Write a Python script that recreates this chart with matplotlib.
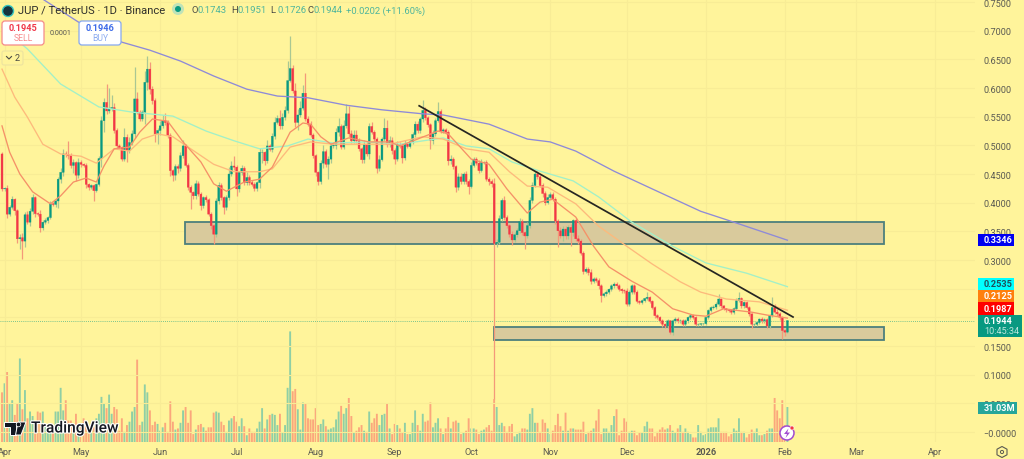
from matplotlib import pyplot as plt
from matplotlib.lines import Line2D
from matplotlib.patches import Circle, FancyBboxPatch, Polygon, Rectangle
from matplotlib.transforms import Affine2D
import matplotlib.patheffects as pe
import numpy as np

plt.rcParams['font.family'] = ['Roboto', 'DejaVu Sans']

closes = [
    .424, .425, .380, .392, .406, .386, .337, .339, .333, .379,
    .366, .385, .409, .381, .380, .356, .366, .369, .374, .398,
    .397, .403, .441, .453, .485, .484, .482, .465, .470, .448,
    .470, .467, .465, .432, .427, .430, .421, .432, .477, .543,
    .575, .560, .564, .566, .526, .499, .496, .476, .514, .491,
    .505, .520, .581, .558, .546, .558, .610, .633, .598, .578,
    .520, .526, .534, .543, .540, .517, .456, .448, .463, .460,
    .482, .499, .465, .427, .418, .412, .433, .415, .395, .409,
    .405, .380, .360, .345, .403, .430, .409, .392, .409, .450,
    .464, .462, .424, .453, .460, .435, .444, .435, .432, .425,
    .435, .488, .488, .473, .499, .493, .516, .540, .547, .534,
    .549, .561, .613, .634, .595, .540, .553, .565, .591, .546,
    .537, .518, .482, .453, .437, .469, .489, .467, .476, .499,
    .500, .523, .533, .497, .534, .555, .520, .508, .518, .508,
    .494, .475, .502, .485, .533, .523, .511, .460, .475, .511,
    .530, .502, .508, .491, .476, .502, .499, .478, .502, .498,
    .506, .519, .537, .526, .546, .561, .548, .536, .509, .520,
    .543, .559, .525, .527, .523, .473, .476, .463, .427, .445,
    .437, .450, .437, .428, .465, .476, .469, .456, .470, .470,
    .441, .437, .433, .329, .331, .372, .404, .374, .360, .345,
    .335, .344, .351, .367, .348, .342, .360, .404, .430, .450,
    .445, .430, .416, .400, .409, .414, .406, .368, .351, .342,
    .354, .342, .357, .348, .369, .337, .333, .312, .280, .284,
    .278, .263, .267, .264, .255, .238, .241, .244, .249, .255,
    .258, .255, .249, .2465, .246, .223, .244, .255, .244, .228,
    .226, .229, .233, .235, .228, .217, .203, .200, .194, .188,
    .185, .194, .174, .194, .197, .194, .194, .188, .194, .200,
    .203, .200, .188, .188, .189, .189, .200, .212, .217, .218,
    .223, .232, .220, .215, .213, .212, .209, .215, .229, .233,
    .220, .226, .217, .206, .188, .188, .191, .197, .194, .196,
    .185, .203, .217, .209, .206, .200, .177, .1742, .1944,
]
first_open = .485

upper_wicks = [
    4, 3, 6, 4, 6, 3, 3, 6, 8, 4, 6, 5, 6, 3, 3, 8, 4, 4, 3, 5,
    4, 3, 3, 8, 8, 5, 24, 4, 6, 3, 8, 4, 3, 4, 3, 3, 3, 3, 5, 8,
    8, 32, 36, 21, 8, 5, 3, 3, 17, 6, 10, 6, 55, 12, 4, 4, 20, 23, 12, 5,
    4, 5, 8, 10, 14, 4, 4, 3, 4, 5, 6, 10, 3, 4, 3, 3, 6, 5, 4, 3,
    4, 3, 3, 3, 6, 6, 4, 3, 5, 12, 8, 18, 4, 3, 5, 4, 10, 5, 5, 4,
    3, 8, 6, 3, 10, 4, 6, 10, 6, 14, 8, 8, 35, 57, 6, 14, 10, 12, 14, 36,
    5, 6, 3, 3, 3, 6, 12, 5, 5, 6, 5, 8, 14, 4, 10, 17, 14, 6, 8, 8,
    5, 3, 8, 5, 6, 8, 4, 4, 8, 4, 18, 14, 8, 6, 5, 6, 4, 5, 8, 4,
    5, 4, 6, 6, 4, 18, 6, 4, 3, 6, 5, 16, 4, 3, 3, 4, 8, 4, 3, 6,
    6, 4, 6, 4, 6, 4, 4, 5, 6, 3, 4, 4, 4, 10, 5, 6, 5, 8, 4, 3,
    5, 5, 4, 6, 5, 3, 6, 6, 6, 6, 6, 4, 5, 4, 6, 5, 5, 4, 4, 6,
    5, 6, 4, 5, 3, 5, 6, 3, 3, 4, 3, 6, 3, 3, 4, 3, 3, 4, 3, 4,
    3, 3, 4, 3, 3, 6, 3, 3, 3, 3, 2, 3, 3, 10, 3, 2, 2, 3, 2, 3,
    2, 3, 2, 3, 3, 3, 3, 3, 3, 2, 3, 2, 2, 2, 2, 2, 3, 3, 3, 3,
    3, 9, 2, 2, 2, 2, 2, 3, 4, 12, 3, 3, 3, 2, 2, 2, 3, 2, 3, 3,
    3, 3, 18, 6, 5, 3, 3, 3, 1,
]
lower_wicks = [
    3, 4, 6, 4, 3, 8, 8, 18, 31, 10, 4, 6, 4, 6, 4, 8, 4, 4, 4, 3,
    3, 4, 12, 6, 6, 4, 5, 5, 14, 10, 5, 4, 3, 6, 4, 3, 18, 3, 3, 14,
    20, 5, 4, 4, 4, 5, 3, 4, 3, 20, 4, 5, 8, 4, 4, 4, 20, 14, 8, 6,
    14, 18, 8, 4, 4, 4, 10, 10, 8, 8, 4, 4, 3, 4, 29, 6, 6, 3, 8, 4,
    3, 4, 6, 17, 4, 6, 4, 12, 5, 4, 3, 5, 12, 6, 4, 5, 4, 5, 3, 4,
    4, 10, 18, 8, 4, 3, 5, 5, 3, 6, 5, 4, 5, 3, 3, 8, 14, 4, 3, 4,
    3, 4, 4, 6, 7, 4, 8, 4, 26, 6, 3, 6, 6, 4, 4, 4, 6, 4, 4, 4,
    4, 6, 6, 3, 8, 4, 4, 8, 4, 3, 3, 4, 4, 6, 8, 3, 4, 8, 3, 3,
    3, 3, 4, 4, 4, 6, 4, 4, 15, 6, 4, 3, 4, 3, 4, 8, 6, 5, 8, 4,
    5, 5, 4, 13, 3, 3, 3, 4, 3, 3, 4, 6, 5, 271, 6, 3, 4, 4, 5, 4,
    8, 4, 3, 4, 4, 23, 4, 4, 4, 3, 3, 3, 6, 4, 3, 3, 3, 5, 29, 4,
    8, 6, 6, 23, 6, 4, 5, 3, 4, 3, 5, 4, 3, 3, 6, 12, 3, 4, 3, 3,
    3, 4, 3, 4, 4, 4, 3, 3, 4, 3, 3, 3, 3, 3, 3, 3, 4, 3, 3, 5,
    4, 3, 3, 4, 3, 3, 4, 3, 3, 3, 3, 3, 3, 3, 3, 3, 3, 3, 2, 3,
    3, 3, 3, 3, 3, 3, 3, 3, 3, 3, 3, 3, 3, 3, 6, 3, 3, 3, 3, 3,
    4, 3, 3, 3, 3, 4, 15, 6, 2,
]

# volume in millions
volumes = [
    44, 52, 62, 34, 37, 24, 34, 74, 29, 46, 21, 27, 23, 18, 27, 26, 27, 16, 12, 12,
    13, 27, 27, 48, 28, 37, 19, 19, 12, 25, 14, 15, 21, 15, 12, 12, 13, 21, 25, 40,
    34, 30, 42, 25, 31, 29, 10, 21, 9, 15, 18, 27, 31, 73, 15, 18, 51, 44, 28, 15,
    18, 16, 10, 13, 17, 9, 36, 18, 11, 12, 17, 28, 31, 17, 28, 7, 11, 15, 16, 13,
    10, 13, 13, 26, 27, 26, 18, 15, 9, 19, 21, 23, 18, 14, 21, 14, 6, 12, 9, 9,
    12, 18, 30, 12, 20, 24, 25, 24, 15, 25, 8, 15, 48, 98, 45, 47, 29, 11, 35, 34,
    21, 20, 20, 30, 15, 16, 20, 14, 11, 12, 13, 20, 27, 32, 25, 30, 39, 23, 8, 10,
    13, 15, 10, 9, 27, 17, 21, 25, 15, 24, 25, 34, 12, 7, 16, 15, 12, 8, 17, 7,
    7, 17, 28, 15, 10, 25, 18, 19, 35, 13, 17, 21, 12, 7, 12, 22, 12, 18, 19, 17,
    7, 8, 10, 21, 12, 12, 11, 7, 10, 11, 13, 15, 10, 38, 31, 15, 17, 14, 9, 14,
    16, 5, 7, 9, 12, 12, 11, 25, 30, 17, 17, 9, 20, 17, 12, 7, 10, 15, 25, 14,
    10, 26, 10, 12, 12, 11, 11, 11, 18, 7, 9, 10, 12, 19, 29, 7, 12, 12, 9, 15,
    23, 29, 6, 10, 21, 18, 9, 10, 10, 6, 8, 8, 14, 18, 12, 12, 5, 9, 11, 13,
    11, 12, 15, 10, 8, 12, 15, 9, 12, 9, 7, 4, 4, 15, 9, 6, 7, 12, 13, 13,
    13, 21, 9, 9, 9, 5, 7, 12, 10, 21, 9, 9, 4, 7, 11, 9, 12, 6, 6, 7,
    10, 12, 12, 39, 28, 21, 37, 15, 31,
]

# moving averages, read at the bends of each line
ma_200_days = [16, 30, 47, 58, 70, 83, 96, 108, 120, 135, 149, 165, 173, 191, 206, 215, 225, 240, 255, 274, 287, 308]
ma_200 = [.755, .715, .680, .666, .647, .621, .598, .586, .583, .570, .562, .555, .553, .537, .511, .506, .490, .455, .424, .385, .366, .3346]
ma_100_days = [0, 10, 23, 38, 51, 67, 80, 91, 101, 112, 120, 130, 143, 156, 173, 182, 191, 200, 211, 224, 234, 247, 263, 276, 292, 308]
ma_100 = [.706, .668, .607, .567, .558, .551, .525, .508, .494, .499, .511, .504, .506, .502, .513, .499, .494, .471, .455, .438, .410, .366, .324, .295, .277, .2535]
ma_50_days = [0, 5, 10, 16, 23, 31, 37, 44, 50, 55, 61, 67, 74, 83, 91, 101, 106, 113, 121, 130, 152, 165, 173, 182, 191, 199, 206, 214, 225, 234, 245, 255, 266, 274, 284, 297, 308]
ma_50 = [.633, .584, .549, .502, .485, .481, .469, .494, .490, .511, .520, .515, .494, .467, .454, .454, .459, .497, .506, .502, .502, .515, .511, .494, .488, .454, .429, .427, .398, .359, .324, .293, .262, .244, .232, .227, .2125]
ma_20_days = [0, 3, 7, 12, 19, 23, 28, 33, 37, 40, 44, 50, 54, 59, 65, 71, 78, 83, 88, 95, 101, 106, 113, 118, 121, 125, 129, 136, 144, 152, 156, 163, 171, 175, 184, 191, 198, 206, 211, 216, 225, 232, 238, 247, 255, 263, 271, 276, 283, 294, 300, 308]
ma_20 = [.534, .488, .450, .419, .398, .412, .436, .443, .436, .464, .494, .497, .523, .546, .542, .506, .471, .433, .420, .436, .441, .462, .523, .539, .537, .515, .502, .513, .506, .506, .499, .511, .525, .520, .476, .467, .424, .382, .401, .406, .375, .324, .288, .263, .244, .215, .204, .202, .215, .209, .204, .1987]

# drawn levels: [first day, last day, low, high]
zone_upper = [71.8, 345.9, .328, .366]
zone_lower = [192.8, 345.9, .1605, .183]
trend_days = [163.6, 310.2]
trend_prices = [.569, .2006]

month_days = [1, 31, 62, 92, 123, 154, 184, 215, 245, 276, 307, 335, 366]
month_labels = ['Apr', 'May', 'Jun', 'Jul', 'Aug', 'Sep', 'Oct', 'Nov', 'Dec', '2026', 'Feb', 'Mar', 'Apr']
price_ticks = [0, .05, .1, .15, .2, .25, .3, .35, .4, .45, .5, .55, .6, .65, .7, .75]
# these two sit fully under the price tags
hidden_ticks = [.2, .25]

BG = '#FFF49B'
GRID = '#F8EC96'
GREEN = '#089981'
RED = '#F23645'
TXT = '#5A5A52'

fig = plt.figure(figsize=(10.24, 4.6), dpi=100, facecolor=BG)
ax = fig.add_axes([0, 17 / 460, 975 / 1024, 443 / 460])
vol = ax.twinx()
ax.set_zorder(vol.get_zorder() + 1)
ax.patch.set_visible(False)
vol.set_facecolor(BG)

closes = np.array(closes)
opens = np.r_[first_open, closes[:-1]]
days = np.arange(len(closes))
up = closes >= opens
highs = np.maximum(opens, closes) + np.array(upper_wicks) / 1000
lows = np.minimum(opens, closes) - np.array(lower_wicks) / 1000

bars = vol.bar(days, volumes, width=.74, color=np.where(up, '#8FCFA5', '#FBA77C'))
for bar in bars:
    bar.set_snap(False)
vol.set_ylim(0, 392.5)
vol.set_yticks([])

ax.set_axisbelow(True)
for zone in [zone_upper, zone_lower]:
    ax.add_patch(Rectangle((zone[0], zone[2]), zone[1] - zone[0], zone[3] - zone[2],
                           facecolor='#D9CA9C', edgecolor='#4D7F7C', linewidth=1.3, zorder=1.5))

ax.vlines(days, lows, highs, colors=np.where(up, '#A9C793', '#F4997A'), linewidth=.9, zorder=2)
bodies = ax.bar(days, np.abs(closes - opens), bottom=np.minimum(opens, closes), width=.74,
                color=np.where(up, GREEN, RED), edgecolor=np.where(up, GREEN, RED), linewidth=.25, zorder=3)
for body in bodies:
    body.set_snap(False)

ax.plot(ma_200_days, ma_200, color='#8E8AD8', linewidth=.95, zorder=4)
ax.plot(ma_100_days, ma_100, color='#A2F0C8', linewidth=.95, zorder=4)
ax.plot(ma_50_days, ma_50, color='#FDBA7C', linewidth=.95, zorder=4)
ax.plot(ma_20_days, ma_20, color='#F59168', linewidth=.95, zorder=4)
ax.plot(trend_days, trend_prices, color='#262622', linewidth=1.25, zorder=5)
ax.axhline(closes[-1], color=GREEN, linewidth=.6, linestyle=(0, (1, 1.5)), alpha=.7, zorder=1.8)

ax.set_xlim(-.784, 381.57)
ax.set_ylim(-.01744, .7553)
vol.set_xlim(-.784, 381.57)
ax.set_xticks(month_days)
ax.set_xticklabels(month_labels)
ax.yaxis.tick_right()
ax.set_yticks(price_ticks)
ax.set_yticklabels(['' if p in hidden_ticks else '\u22120.0000' if p == 0 else '%.4f' % p for p in price_ticks])
ax.grid(color=GRID, linewidth=.8)
ax.tick_params(length=0, labelsize=6.6, labelcolor=TXT)
ax.tick_params(axis='y', pad=6.2)
ax.tick_params(axis='x', pad=3.5)
ax.get_xticklabels()[9].set_fontweight('bold')
for spine in list(ax.spines.values()) + list(vol.spines.values()):
    spine.set_visible(False)

# overlays below are placed in image pixels
pix = Affine2D().scale(1, -1).translate(0, 460)


def label(x, y, s, color=TXT, size=6.6, ha='left', **kw):
    return fig.text(x, y, s, color=color, fontsize=size, ha=ha, va='center', transform=pix, zorder=6, **kw)


def tag(x0, y0, x1, y1, color):
    fig.add_artist(Rectangle((x0, y0), x1 - x0, y1 - y0, facecolor=color, edgecolor='none', transform=pix, zorder=5))


# price tags on the scale
tag(978, 235, 1014, 247, '#0000F0')
label(984, 241, '0.3346', 'white', fontweight='bold')
tag(978, 279, 1014, 291, '#00FFFF')
label(984, 285, '0.2535', '#1F4F5A', fontweight='bold')
tag(978, 291, 1014, 303, '#FF7F0E')
label(984, 297, '0.2125', 'white', fontweight='bold')
tag(978, 303, 1014, 316, '#FF0000')
label(984, 310, '0.1987', 'white', fontweight='bold')
tag(978, 316, 1022, 338, '#089981')
label(984, 322, '0.1944', 'white', fontweight='bold')
label(984, 332, '10:45:34', '#BFE6DC')
tag(978, 403, 1017, 415, '#26A69A')
label(984, 409, '31.03M', 'white', fontweight='bold')

# title row
fig.add_artist(Circle((8, 12), 5.5, facecolor='#17333D', edgecolor='#37C6C0', linewidth=1, transform=pix, zorder=6))
label(18, 11, 'JUP / TetherUS \u00b7 1D \u00b7 Binance', '#2F2F2B', 8.1)
fig.add_artist(Circle((178, 10), 6, facecolor='#BFE3B8', edgecolor='none', transform=pix, zorder=6))
fig.add_artist(Circle((178, 10), 3, facecolor=GREEN, edgecolor='none', transform=pix, zorder=6))
for x, name, value in [(191, 'O', '0.1743'), (231, 'H', '0.1951'), (270, 'L', '0.1726'), (307, 'C', '0.1944')]:
    label(x, 11, name, '#4A4A44', 6.8)
    label(x + 7, 11, value, '#4FB59C', 6.8)
label(346, 11, '+0.0202 (+11.60%)', '#4FB59C', 6.8)

# sell and buy buttons
for x0, edge, value, word, vcol, wcol in [(2, '#F58A8A', '0.1945', 'SELL', '#F0394B', '#F78C8C'),
                                          (79, '#86A8F0', '0.1946', 'BUY', '#3D6BE8', '#8FAEF0')]:
    fig.add_artist(FancyBboxPatch((x0, 22), 42, 24, boxstyle='round,pad=0,rounding_size=3', facecolor='white',
                                  edgecolor=edge, linewidth=.9, transform=pix, zorder=6))
    label(x0 + 21, 29, value, vcol, 6.6, ha='center', fontweight='bold')
    label(x0 + 21, 39, word, wcol, 6.2, ha='center')
label(61, 34, '0.0001', TXT, 5.2, ha='center')

# collapsed indicators button
fig.add_artist(FancyBboxPatch((2, 52), 21, 14, boxstyle='round,pad=0,rounding_size=2', facecolor=BG,
                              edgecolor='#EDE3A0', linewidth=.8, transform=pix, zorder=6))
fig.add_artist(Line2D([6.5, 9, 11.5], [57.5, 60, 57.5], color='#4A4A44', linewidth=.8, transform=pix, zorder=7))
label(15, 59, '2', '#4A4A44', 6.6)

# TradingView mark
halo = [pe.withStroke(linewidth=1.6, foreground='white')]
for points in [[(4, 423), (16, 423), (16, 436), (10, 436), (10, 428), (4, 428)],
               [(18, 423), (26, 423), (21, 436), (15.5, 436)]]:
    fig.add_artist(Polygon(points, closed=True, facecolor='#131722', edgecolor='white', linewidth=.7, transform=pix, zorder=6))
fig.add_artist(Circle((18.5, 425.5), 2.3, facecolor='#131722', edgecolor='white', linewidth=.5, transform=pix, zorder=6))
label(31, 429, 'TradingView', '#131722', 11.2, fontweight='medium', path_effects=halo)

# lightning badge and settings hexagon
fig.add_artist(Circle((787, 434), 7, facecolor='white', edgecolor='#A24BD0', linewidth=1.1, transform=pix, zorder=6))
fig.add_artist(Polygon([(788.5, 429.5), (784, 435), (787, 435), (785.5, 439), (790, 433.5), (787.2, 433.5)], closed=True,
                       facecolor='#A24BD0', edgecolor='none', transform=pix, zorder=7))
fig.add_artist(Circle((792, 429), 2, facecolor='#F23645', edgecolor='white', linewidth=.4, transform=pix, zorder=7))
fig.add_artist(Polygon([(1002, 447.5), (1007, 450.2), (1007, 455.8), (1002, 458.5), (997, 455.8), (997, 450.2)], closed=True,
                       facecolor='none', edgecolor='#5A5A52', linewidth=.8, transform=pix, zorder=6))
fig.add_artist(Circle((1002, 453), 1.6, facecolor='none', edgecolor='#5A5A52', linewidth=.7, transform=pix, zorder=6))

fig.savefig('out.png', dpi=100, facecolor=BG)
